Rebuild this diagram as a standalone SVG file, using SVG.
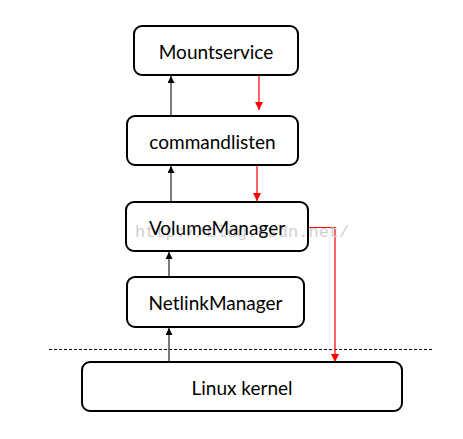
<svg xmlns="http://www.w3.org/2000/svg" width="463" height="439" viewBox="0 0 463 439">
<style>
.box{fill:#fff;stroke:#000;stroke-width:2}
.lbl{font-family:Lato,"Open Sans",sans-serif;font-size:19px;fill:#000;text-anchor:middle}
.up{stroke:#333;stroke-width:1.3;fill:none}
.down{stroke:#ff0000;stroke-width:1.2;fill:none}
.wm{font-family:"Liberation Mono",monospace;font-size:17px;fill:#d0d0d0}
</style>
<defs>
<marker id="ab" viewBox="0 0 10 10" refX="10" refY="5" markerWidth="7" markerHeight="7" markerUnits="userSpaceOnUse" orient="auto"><path d="M0,0L10,5L0,10z" fill="#000"/></marker>
<marker id="ar" viewBox="0 0 10 10" refX="10" refY="5" markerWidth="8" markerHeight="8" markerUnits="userSpaceOnUse" orient="auto"><path d="M0,0L10,5L0,10z" fill="#ff0000"/></marker>
</defs>
<rect width="463" height="439" fill="#fff"/>
<line x1="49" y1="349.5" x2="432" y2="349.5" stroke="#000" stroke-width="1" stroke-dasharray="3,2"/>
<g id="connectors">
<line class="up" x1="171" y1="116" x2="171" y2="76" marker-end="url(#ab)"/>
<line class="up" x1="171" y1="202" x2="171" y2="166" marker-end="url(#ab)"/>
<line class="up" x1="169" y1="277" x2="169" y2="252" marker-end="url(#ab)"/>
<line class="up" x1="169" y1="362" x2="169" y2="328" marker-end="url(#ab)"/>
<line class="down" x1="259" y1="76" x2="259" y2="110" marker-end="url(#ar)"/>
<line class="down" x1="257" y1="166" x2="257" y2="201" marker-end="url(#ar)"/>
<polyline class="down" points="309,227.5 335,227.5 335,362" marker-end="url(#ar)"/>
</g>
<g id="mountservice"><rect class="box" x="134" y="26" width="164" height="49" rx="8"/><text class="lbl" x="216" y="59">Mountservice</text></g>
<g id="commandlisten"><rect class="box" x="127" y="116" width="171" height="49" rx="8"/><text class="lbl" x="212.5" y="149">commandlisten</text></g>
<g id="volumemanager"><rect class="box" x="126" y="202" width="182" height="49" rx="8"/><text class="wm" x="135" y="237">http://blog.csdn.net/</text><text class="lbl" x="217" y="235">VolumeManager</text></g>
<g id="netlinkmanager"><rect class="box" x="127" y="277" width="177" height="50" rx="8"/><text class="lbl" x="215.5" y="310">NetlinkManager</text></g>
<g id="linuxkernel"><rect class="box" x="82" y="362" width="320" height="49" rx="8"/><text class="lbl" x="242" y="395">Linux kernel</text></g>
</svg>
